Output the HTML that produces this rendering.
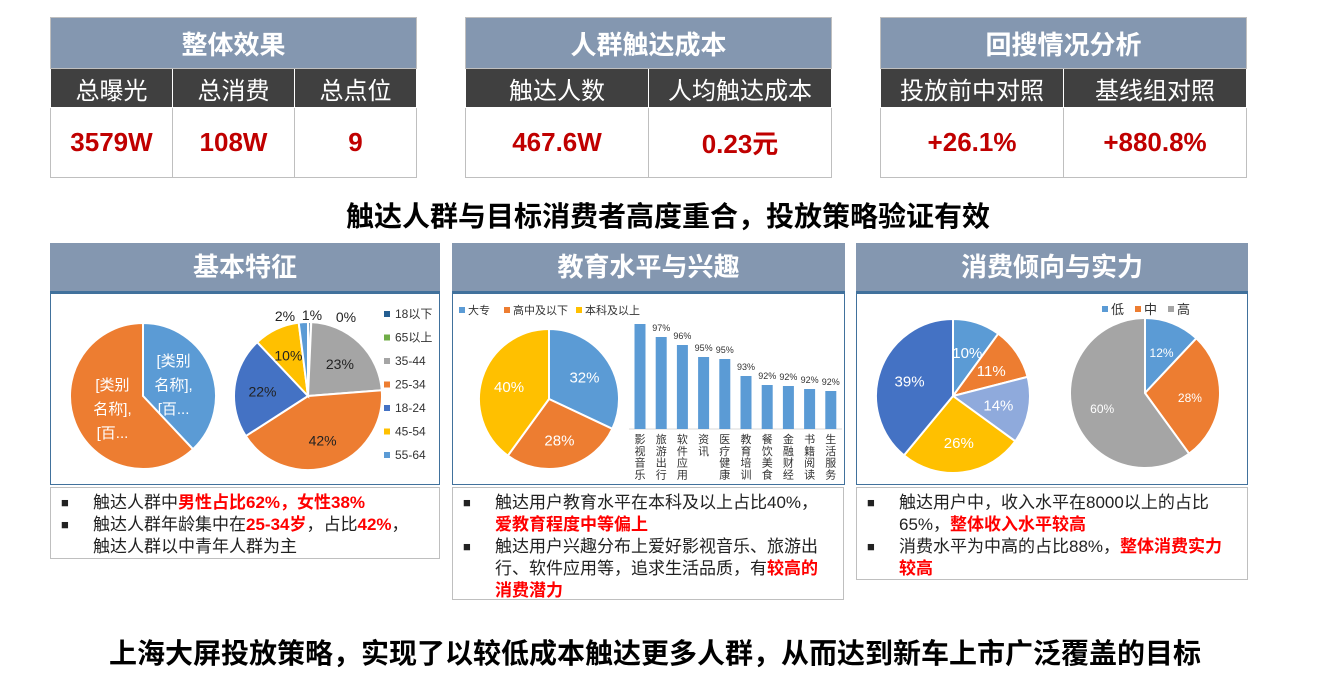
<!DOCTYPE html>
<html><head><meta charset="utf-8">
<style>
body{margin:0;width:1332px;height:680px;background:#fff;position:relative;overflow:hidden;font-family:"Liberation Sans","Noto Sans CJK SC",sans-serif;}
.abs{position:absolute;box-sizing:border-box;}
table.kpi{position:absolute;border-collapse:collapse;table-layout:fixed;}
table.kpi td{text-align:center;padding:0;border:1px solid #bfbfbf;}
.t1{background:#8497b0;color:#fff;font-weight:bold;font-size:26px;height:50px;}
.t2{background:#404040;color:#fff;font-size:24px;height:38px;border-color:#fff!important;}
.t3{color:#c00000;font-weight:bold;font-size:26px;height:69px;}
.sec{background:#8497b0;color:#fff;font-weight:bold;font-size:26px;text-align:center;line-height:48px;height:50px;border-bottom:2px solid #41719c;}
.box{border:1px solid #41719c;background:#fff;}
.tbox{border:1px solid #bfbfbf;font-size:17px;line-height:22px;color:#222;padding:4px 20px 0 42px;}
.tbox p{margin:0;position:relative;}
.tbox p:before{content:"■";position:absolute;left:-32px;top:0;font-size:13px;}
.r{color:#ff0000;font-weight:bold;}
.head{font-weight:bold;font-size:28px;text-align:center;color:#000;}
</style></head><body>

<table class="kpi" style="left:50px;top:17px;width:367px;">
<tr><td colspan="3" class="t1">整体效果</td></tr>
<tr><td class="t2">总曝光</td><td class="t2">总消费</td><td class="t2">总点位</td></tr>
<tr><td class="t3">3579W</td><td class="t3">108W</td><td class="t3">9</td></tr>
</table>
<table class="kpi" style="left:465px;top:17px;width:367px;">
<tr><td colspan="2" class="t1">人群触达成本</td></tr>
<tr><td class="t2">触达人数</td><td class="t2">人均触达成本</td></tr>
<tr><td class="t3">467.6W</td><td class="t3">0.23元</td></tr>
</table>
<table class="kpi" style="left:880px;top:17px;width:367px;">
<tr><td colspan="2" class="t1">回搜情况分析</td></tr>
<tr><td class="t2">投放前中对照</td><td class="t2">基线组对照</td></tr>
<tr><td class="t3">+26.1%</td><td class="t3">+880.8%</td></tr>
</table>

<div class="abs head" style="left:0;width:1336px;top:195px;">触达人群与目标消费者高度重合，投放策略验证有效</div>

<div class="abs sec" style="left:50px;top:243px;width:390px;">基本特征</div>
<div class="abs sec" style="left:452px;top:243px;width:393px;">教育水平与兴趣</div>
<div class="abs sec" style="left:856px;top:243px;width:392px;">消费倾向与实力</div>

<div class="abs box" style="left:50px;top:293px;width:390px;height:192px;"></div>
<div class="abs box" style="left:452px;top:293px;width:393px;height:192px;"></div>
<div class="abs box" style="left:856px;top:293px;width:392px;height:192px;"></div>

<svg id="charts" class="abs" style="left:0;top:0" width="1332" height="680"></svg>

<div class="abs tbox" style="left:50px;top:487px;width:390px;height:72px;padding-right:30px;">
<p>触达人群中<span class="r">男性占比62%，女性38%</span></p>
<p>触达人群年龄集中在<span class="r">25-34岁</span>，占比<span class="r">42%</span>，触达人群以中青年人群为主</p>
</div>
<div class="abs tbox" style="left:452px;top:487px;width:392px;height:113px;">
<p>触达用户教育水平在本科及以上占比40%，<br><span class="r">爱教育程度中等偏上</span></p>
<p>触达用户兴趣分布上爱好影视音乐、旅游出行、软件应用等，追求生活品质，有<span class="r">较高的消费潜力</span></p>
</div>
<div class="abs tbox" style="left:856px;top:487px;width:392px;height:93px;">
<p>触达用户中，收入水平在8000以上的占比<br>65%，<span class="r">整体收入水平较高</span></p>
<p>消费水平为中高的占比88%，<span class="r">整体消费实力较高</span></p>
</div>

<div class="abs head" style="left:0;width:1310px;top:632px;font-size:28px;">上海大屏投放策略，实现了以较低成本触达更多人群，从而达到新车上市广泛覆盖的目标</div>

<script>
const genderLabels=["男","女"];
const genderValues=[38,62];
const ageLabels=["18以下","65以上","35-44","25-34","18-24","45-54","55-64"];
const ageValues=[0.6,0.1,23,42,22,10,2];
const ageText=["1%","0%","23%","42%","22%","10%","2%"];
const eduLabels=["大专","高中及以下","本科及以上"];
const eduValues=[32,28,40];
const interestLabels=["影视音乐","旅游出行","软件应用","资讯","医疗健康","教育培训","餐饮美食","金融财经","书籍阅读","生活服务"];
const interestValues=[98.5,97.2,96.4,95.2,95.0,93.3,92.4,92.3,92.0,91.8];
const interestText=["","97%","96%","95%","95%","93%","92%","92%","92%","92%"];
const incomeValues=[10,11,14,26,39];
const spendLabels=["低","中","高"];
const spendValues=[12,28,60];

const NS="http://www.w3.org/2000/svg";
const svg=document.getElementById('charts');
function mk(tag,attrs){const e=document.createElementNS(NS,tag);for(const k in attrs)e.setAttribute(k,attrs[k]);svg.appendChild(e);return e;}
function txt(x,y,s,size,fill,anchor){const t=mk('text',{x:x,y:y,'font-size':size,fill:fill,'text-anchor':anchor||'middle','font-family':'"Liberation Sans","Noto Sans CJK SC",sans-serif'});t.textContent=s;return t;}
function pie(cx,cy,r,vals,cols,name,labels,lcol,lsize,lr,skip){
  const tot=vals.reduce((a,b)=>a+b,0);let a0=-Math.PI/2;
  vals.forEach((v,i)=>{
    const a1=a0+v/tot*2*Math.PI;
    const x0=cx+r*Math.cos(a0),y0=cy+r*Math.sin(a0),x1=cx+r*Math.cos(a1),y1=cy+r*Math.sin(a1);
    const p=mk('path',{d:`M${cx},${cy}L${x0},${y0}A${r},${r} 0 ${a1-a0>Math.PI?1:0} 1 ${x1},${y1}Z`,fill:cols[i],stroke:'#fff','stroke-width':2});
    
    
    if(labels&&labels[i]&&!(skip&&skip[i])){const am=(a0+a1)/2;const rr=r*lr;
      const L=labels[i];
      if(Array.isArray(L)){L.forEach((s,j)=>txt(cx+rr*Math.cos(am),cy+rr*Math.sin(am)+(j-(L.length-1)/2)*24+6,s,lsize,lcol));}
      else txt(cx+rr*Math.cos(am),cy+rr*Math.sin(am)+6,L,lsize,lcol);}
    a0=a1;});
}
// gender pie
pie(143,396,73,genderValues,["#5b9bd5","#ed7d31"],'gender-pie',[["[类别","名称],","[百..."],["[类别","名称],","[百..."]],'#fff',15,0.45);
// age pie
const ageCols=["#255e91","#70ad47","#a5a5a5","#ed7d31","#4472c4","#ffc000","#5b9bd5"];
pie(308,396,74,ageValues,ageCols,'age-pie',ageText,'#222',14,0.62,[true,true,false,false,false,false,true]);
txt(312,320,ageText[0],14,'#222');
txt(346,322,ageText[1],14,'#222');
txt(285,321,ageText[6],14,'#222');
ageLabels.forEach((l,i)=>{const y=318+i*23.5;
  const r=mk('rect',{x:384,y:y-7,width:6,height:6,fill:ageCols[i]});
  
  txt(395,y,l,12,'#333','start');});
// edu pie
const eduCols=["#5b9bd5","#ed7d31","#ffc000"];
pie(549,399,70,eduValues,eduCols,'education-pie',eduValues.map(v=>v+'%'),'#fff',15,0.6);
let lx=459;eduLabels.forEach((l,i)=>{const r=mk('rect',{x:lx,y:307,width:6,height:6,fill:eduCols[i]});
  
  txt(lx+9,314,l,11,'#333','start');lx+=[45,72,0][i];});
// interest bars
const yMin=88,yMax=100,base=429,pxPer=10;
function ys(v){return base-(v-yMin)*pxPer;}
function xs(i){return 640+i*21.2;}
mk('line',{x1:629,y1:base,x2:842,y2:base,stroke:'#d9d9d9','stroke-width':1});
interestValues.forEach((v,i)=>{
  const b=mk('rect',{x:xs(i)-5.5,y:ys(v),width:11,height:base-ys(v),fill:'#5b9bd5'});
  
  if(interestText[i])txt(xs(i),ys(v)-6,interestText[i],9,'#333');
  [...interestLabels[i]].forEach((c,j)=>txt(xs(i),443+j*11.8,c,11,'#333'));
});
// income pie
pie(953,396,77,incomeValues,["#5b9bd5","#ed7d31","#8faadc","#ffc000","#4472c4"],'income-pie',incomeValues.map(v=>v+'%'),'#fff',15,0.6);
// spend pie
const spCols=["#5b9bd5","#ed7d31","#a5a5a5"];
pie(1145,393,75,spendValues,spCols,'spending-pie',spendValues.map(v=>v+'%'),'#fff',12,0.6);
let sx=1102;spendLabels.forEach((l,i)=>{const r=mk('rect',{x:sx,y:306,width:6,height:6,fill:spCols[i]});
  
  txt(sx+9,314,l,13,'#333','start');sx+=33;});
</script>
</body></html>
